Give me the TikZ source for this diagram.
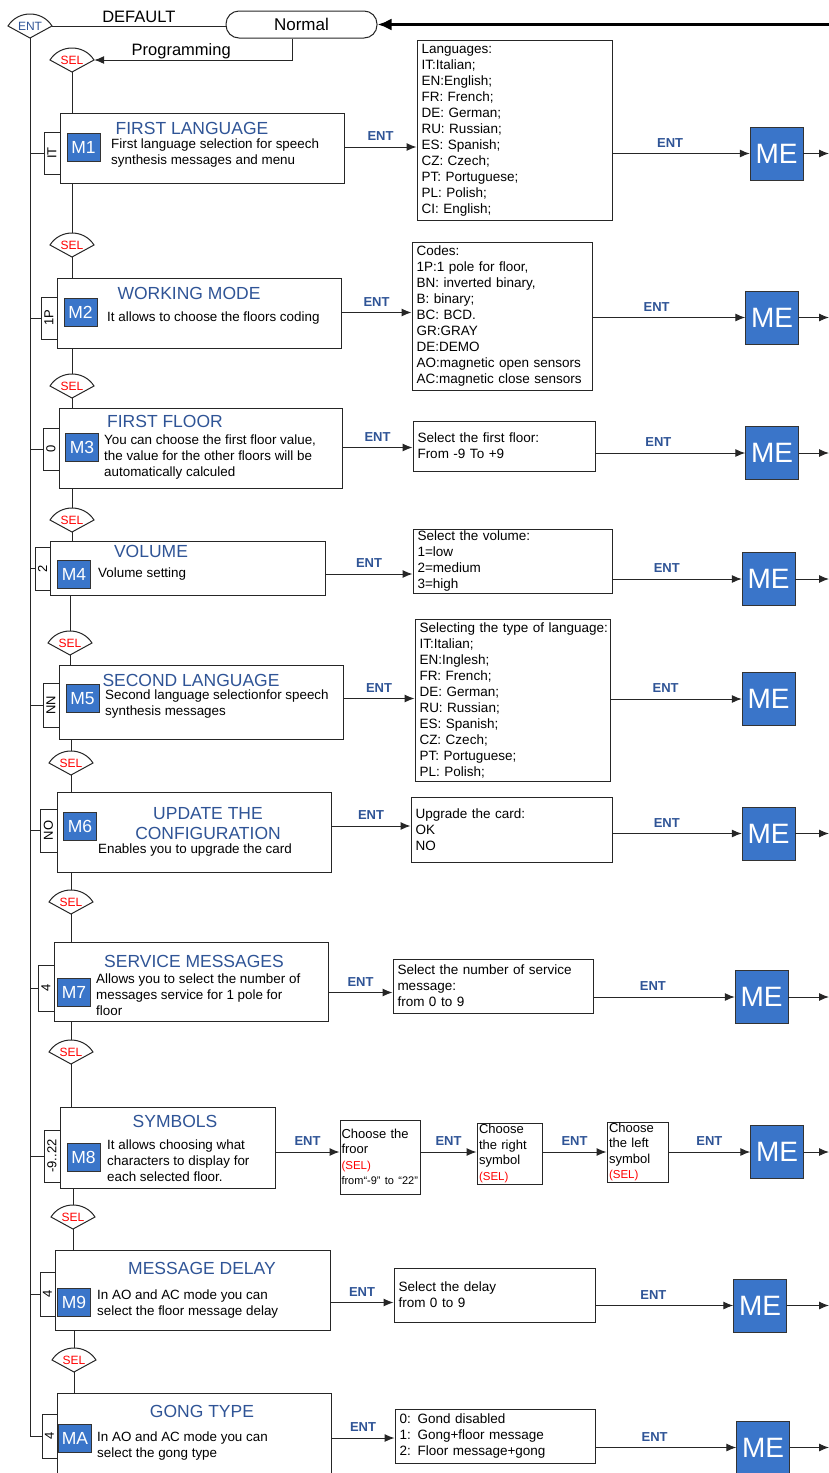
\documentclass[tikz,border=0pt]{standalone}
\usepackage{fontspec}
\setmainfont{Liberation Sans}
\usepackage{graphicx}
\usetikzlibrary{arrows.meta,positioning,calc}
\definecolor{entblue}{RGB}{47,84,150}
\definecolor{codeblue}{RGB}{58,117,201}
\tikzset{menu/.style={draw=black!85,line width=1pt,fill=white,inner sep=0pt},
tabbox/.style={draw=black!85,line width=1pt,fill=white,inner sep=0pt,font=\fontsize{13}{13}\selectfont},
mcode/.style={draw=black!80,fill=codeblue,text=white,minimum width=33pt,minimum height=28pt,inner sep=0pt,font=\fontsize{17.5}{17.5}\selectfont},
ttl/.style={text=entblue,inner sep=1pt,align=center,font=\fontsize{17.5}{20}\selectfont},
dsc/.style={anchor=west,align=left,inner sep=2pt,font=\fontsize{13.4}{16}\selectfont},
opt/.style={draw=black!85,line width=1pt,align=left,inner xsep=4.5pt,inner ysep=0pt,font=\fontsize{13.5}{16}\selectfont},
sopt/.style={draw=black!85,line width=1pt,align=left,inner xsep=2pt,inner ysep=0pt,font=\fontsize{13}{15.5}\selectfont},
mebox/.style={draw=black!80,fill=codeblue,text=white,minimum size=53pt,inner sep=0pt,font=\fontsize{28}{28}\selectfont},
flow/.style={-{Latex[length=10pt,width=8pt]},line width=1pt,draw=black!85},
wire/.style={line width=1pt,draw=black!85},
entlab/.style={above=5pt,inner sep=1pt,text=entblue,font=\fontsize{13}{13}\selectfont\bfseries},
lab/.style={inner sep=1pt,font=\fontsize{16.5}{16.5}\selectfont},
fanline/.style={draw=black!85,line width=1pt,fill=white},
fantext/.style={minimum width=44pt,minimum height=24pt,inner sep=0pt,font=\fontsize{12}{12}\selectfont}}
\newcommand{\selfan}[5][red]{%
\draw[fanline] (#3-22,#4) .. controls (#3-12,#4-16) and (#3+12,#4-16) .. (#3+22,#4) -- (#3,#4+12) -- cycle;
\node[fantext,text=#1] (#2) at (#3,#4) {#5};}
\newcommand{\redsel}{{\color{red}\fontsize{11.5}{15.5}\selectfont (SEL)}}

\begin{document}
\begin{tikzpicture}[x=1pt,y=-1pt]
\useasboundingbox (0,0) rectangle (829,1473);
\coordinate (rim) at (829,0);
\selfan[entblue]{ent}{30}{26}{ENT}
\node[draw=black!85,line width=1pt,rounded corners=13pt,minimum width=151pt,minimum height=27pt,inner sep=0pt,font=\fontsize{17}{17}\selectfont] (normal) at (301.5,24.5) {Normal};
\draw[wire] (ent.east) -- node[lab,above=2pt]{DEFAULT} (ent.east -| normal.west);
\draw[-{Latex[length=14pt,width=12pt]},line width=3.5pt] (normal.east -| rim) -- (normal.east);
\selfan{sel1}{72}{60}{SEL}
\draw[flow] ([xshift=-9.5pt]normal.south) |- node[lab,above,pos=.78]{Programming} (sel1.east);

\node[tabbox,minimum width=16pt,minimum height=42pt] (t1) at (52,153) {\rotatebox{90}{IT}};
\node[menu,minimum width=284pt,minimum height=70pt] (b1) at (202,148) {};
\node[mcode] (c1) at (83.5,147) {M1};
\node[ttl] (n1) at (192,128) {FIRST LANGUAGE};
\node[dsc] (d1) at (109,153) {First language selection for speech\\synthesis messages and menu};
\node[opt,text width=186pt,minimum height=180pt] (o1) at (514.5,130) {Languages:\\IT:Italian;\\EN:English;\\FR: French;\\DE: German;\\RU: Russian;\\ES: Spanish;\\CZ: Czech;\\PT: Portuguese;\\PL: Polish;\\CI: English;};
\node[mebox] (me1) at (776.5,153.5) {ME};
\draw[wire] (sel1.south) -- (sel1.south |- b1.north);
\draw[flow] (b1.east |- c1) -- node[entlab]{ENT} (o1.west |- c1);
\draw[flow] (o1.east |- me1) -- node[entlab,pos=.42]{ENT} (me1);
\draw[flow] (me1) -- (me1 -| rim);

\selfan{sel2}{72}{245}{SEL}
\node[tabbox,minimum width=16pt,minimum height=42pt] (t2) at (49,318) {\rotatebox{90}{1P}};
\node[menu,minimum width=284pt,minimum height=70pt] (b2) at (199,313) {};
\node[mcode] (c2) at (80.5,312.5) {M2};
\node[ttl] (n2) at (189,293) {WORKING MODE};
\node[dsc] (d2) at (105,318) {It allows to choose the floors coding};
\node[opt,text width=171pt,minimum height=148pt] (o2) at (502,316) {Codes:\\1P:1 pole for floor,\\BN: inverted binary,\\B: binary;\\BC: BCD.\\GR:GRAY\\DE:DEMO\\AO:magnetic open sensors\\AC:magnetic close sensors};
\node[mebox] (me2) at (772,317.5) {ME};
\draw[wire] (b1.south -| sel2.north) -- (sel2.north);
\draw[wire] (sel2.south) -- (sel2.south |- b2.north);
\draw[flow] (b2.east |- c2) -- node[entlab]{ENT} (o2.west |- c2);
\draw[flow] (o2.east |- me2) -- node[entlab,pos=.42]{ENT} (me2);
\draw[flow] (me2) -- (me2 -| rim);

\selfan{sel3}{72}{386}{SEL}
\node[tabbox,minimum width=16pt,minimum height=42pt] (t3) at (51,449) {\rotatebox{90}{0}};
\node[menu,minimum width=283pt,minimum height=80pt] (b3) at (200.5,448) {};
\node[mcode] (c3) at (82,447.5) {M3};
\node[ttl] (n3) at (165,421) {FIRST FLOOR};
\node[dsc] (d3) at (102,457) {You can choose the first floor value,\\the value for the other floors will be\\automatically calculed};
\node[opt,text width=173pt,minimum height=50pt] (o3) at (504,446) {Select the first floor:\\From -9 To +9};
\node[mebox] (me3) at (772,453) {ME};
\draw[wire] (b2.south -| sel3.north) -- (sel3.north);
\draw[wire] (sel3.south) -- (sel3.south |- b3.north);
\draw[flow] (b3.east |- c3) -- node[entlab]{ENT} (o3.west |- c3);
\draw[flow] (o3.east |- me3) -- node[entlab,pos=.42]{ENT} (me3);
\draw[flow] (me3) -- (me3 -| rim);

\selfan{sel4}{72}{520}{SEL}
\node[tabbox,minimum width=15pt,minimum height=43pt] (t4) at (42.5,568.5) {\rotatebox{90}{2}};
\node[menu,minimum width=275pt,minimum height=54pt] (b4) at (187.5,568) {};
\node[mcode] (c4) at (74,574) {M4};
\node[ttl] (n4) at (151,551) {VOLUME};
\node[dsc] (d4) at (96,574) {Volume setting};
\node[opt,text width=190pt,minimum height=64pt] (o4) at (512.5,561) {Select the volume:\\1=low\\2=medium\\3=high};
\node[mebox] (me4) at (768.5,579) {ME};
\draw[wire] (b3.south -| sel4.north) -- (sel4.north);
\draw[wire] (sel4.south) -- (sel4.south |- b4.north);
\draw[flow] (b4.east |- c4) -- node[entlab]{ENT} (o4.west |- c4);
\draw[flow] (o4.east |- me4) -- node[entlab,pos=.42]{ENT} (me4);
\draw[flow] (me4) -- (me4 -| rim);

\selfan{sel5}{70}{643}{SEL}
\node[tabbox,minimum width=16pt,minimum height=44pt] (t5) at (51,705) {\rotatebox{90}{NN}};
\node[menu,minimum width=284pt,minimum height=74pt] (b5) at (201,702) {};
\node[mcode] (c5) at (82.5,698.5) {M5};
\node[ttl] (n5) at (191,680) {SECOND LANGUAGE};
\node[dsc] (d5) at (103,704.5) {Second language selectionfor speech\\synthesis messages};
\node[opt,text width=186pt,minimum height=162pt] (o5) at (512.5,700) {\mbox{Selecting the type of language:}\\IT:Italian;\\EN:Inglesh;\\FR: French;\\DE: German;\\RU: Russian;\\ES: Spanish;\\CZ: Czech;\\PT: Portuguese;\\PL: Polish;};
\node[mebox] (me5) at (768.5,699) {ME};
\draw[wire] (b4.south -| sel5.north) -- (sel5.north);
\draw[wire] (sel5.south) -- (sel5.south |- b5.north);
\draw[flow] (b5.east |- c5) -- node[entlab]{ENT} (o5.west |- c5);
\draw[flow] (o5.east |- me5) -- node[entlab,pos=.42]{ENT} (me5);

\selfan{sel6}{71}{763}{SEL}
\node[tabbox,minimum width=17pt,minimum height=43pt] (t6) at (48.5,830.5) {\rotatebox{90}{NO}};
\node[menu,minimum width=274pt,minimum height=80pt] (b6) at (194,832) {};
\node[mcode] (c6) at (80,826) {M6};
\node[ttl] (n6) at (208,824) {UPDATE THE\\CONFIGURATION};
\node[dsc,anchor=center] (d6) at (195,850) {Enables you to upgrade the card};
\node[opt,text width=192pt,minimum height=65pt] (o6) at (511.5,829.5) {Upgrade the card:\\OK\\NO};
\node[mebox] (me6) at (768.5,833.5) {ME};
\draw[wire] (b5.south -| sel6.north) -- (sel6.north);
\draw[wire] (sel6.south) -- (sel6.south |- b6.north);
\draw[flow] (b6.east |- c6) -- node[entlab]{ENT} (o6.west |- c6);
\draw[flow] (o6.east |- me6) -- node[entlab,pos=.42]{ENT} (me6);
\draw[flow] (me6) -- (me6 -| rim);

\selfan{sel7}{71}{902}{SEL}
\node[tabbox,minimum width=16pt,minimum height=46pt] (t7) at (46,988) {\rotatebox{90}{4}};
\node[menu,minimum width=274pt,minimum height=79pt] (b7) at (191,981.5) {};
\node[mcode] (c7) at (74,992.5) {M7};
\node[ttl] (n7) at (194,961) {SERVICE MESSAGES};
\node[dsc] (d7) at (94,995) {Allows you to select the number of\\messages service for 1 pole for\\floor};
\node[opt,text width=191pt,minimum height=54pt] (o7) at (493,986) {Select the number of service\\message:\\from 0 to 9};
\node[mebox] (me7) at (761.5,997) {ME};
\draw[wire] (b6.south -| sel7.north) -- (sel7.north);
\draw[wire] (sel7.south) -- (sel7.south |- b7.north);
\draw[flow] (b7.east |- c7) -- node[entlab]{ENT} (o7.west |- c7);
\draw[flow] (o7.east |- me7) -- node[entlab,pos=.42]{ENT} (me7);
\draw[flow] (me7) -- (me7 -| rim);

\selfan{sel8}{71}{1052}{SEL}
\node[tabbox,minimum width=16pt,minimum height=52pt] (t8) at (52,1156) {\rotatebox{90}{-9..22}};
\node[menu,minimum width=215pt,minimum height=81pt] (b8) at (167.5,1147.5) {};
\node[mcode] (c8) at (83.5,1157) {M8};
\node[ttl] (n8) at (175,1121) {SYMBOLS};
\node[dsc] (d8) at (105,1161) {It allows choosing what\\characters to display for\\each selected floor.};
\node[sopt,inner xsep=1.5pt,text width=77pt,minimum height=74pt] (s1) at (380,1157) {Choose the\\froor\\\redsel\\\mbox{\fontsize{11}{15.5}\selectfont from“-9” to “22”}};
\node[sopt,text width=61pt,minimum height=61pt] (s2) at (509.5,1153.5) {Choose\\the right\\symbol\\\redsel};
\node[sopt,text width=57pt,minimum height=60pt] (s3) at (637.5,1152) {Choose\\the left\\symbol\\\redsel};
\node[mebox] (me8) at (777,1152) {ME};
\draw[wire] (b7.south -| sel8.north) -- (sel8.north);
\draw[wire] (sel8.south) -- (sel8.south |- b8.north);
\draw[flow] (b8.east |- me8) -- node[entlab]{ENT} (s1.west |- me8);
\draw[flow] (s1.east |- me8) -- node[entlab]{ENT} (s2.west |- me8);
\draw[flow] (s2.east |- me8) -- node[entlab]{ENT} (s3.west |- me8);
\draw[flow] (s3.east |- me8) -- node[entlab]{ENT} (me8);
\draw[flow] (me8) -- (me8 -| rim);

\selfan{sel9}{73}{1217}{SEL}
\node[tabbox,minimum width=15pt,minimum height=44pt] (t9) at (47.5,1294) {\rotatebox{90}{4}};
\node[menu,minimum width=275pt,minimum height=80pt] (b9) at (192.5,1290) {};
\node[mcode] (c9) at (74,1302.5) {M9};
\node[ttl] (n9) at (202,1268) {MESSAGE DELAY};
\node[dsc] (d9) at (95,1304) {In AO and AC mode you can\\select the floor message delay};
\node[opt,text width=192pt,minimum height=54pt] (o9) at (494.5,1295) {Select the delay\\from 0 to 9};
\node[mebox] (me9) at (760,1305.5) {ME};
\draw[wire] (b8.south -| sel9.north) -- (sel9.north);
\draw[wire] (sel9.south) -- (sel9.south |- b9.north);
\draw[flow] (b9.east |- c9) -- node[entlab]{ENT} (o9.west |- c9);
\draw[flow] (o9.east |- me9) -- node[entlab,pos=.42]{ENT} (me9);
\draw[flow] (me9) -- (me9 -| rim);

\selfan{selA}{74}{1360}{SEL}
\node[tabbox,minimum width=15pt,minimum height=44pt] (tA) at (49.5,1436) {\rotatebox{90}{4}};
\node[menu,minimum width=274pt,minimum height=82pt] (bA) at (194,1434) {};
\node[mcode] (cA) at (75,1438) {MA};
\node[ttl] (nA) at (202,1411) {GONG TYPE};
\node[dsc] (dA) at (95,1446.5) {In AO and AC mode you can\\select the gong type};
\node[opt,text width=191pt,minimum height=54pt] (oA) at (495,1436) {0: Gond disabled\\1: Gong+floor message\\2: Floor message+gong};
\node[mebox] (meA) at (763,1447.5) {ME};
\draw[wire] (b9.south -| selA.north) -- (selA.north);
\draw[wire] (selA.south) -- (selA.south |- bA.north);
\draw[flow] (bA.east |- cA) -- node[entlab]{ENT} (oA.west |- cA);
\draw[flow] (oA.east |- meA) -- node[entlab,pos=.42]{ENT} (meA);
\draw[flow] (meA) -- (meA -| rim);

\draw[wire] (ent.south) |- (tA.west);
\foreach \t in {t1,t2,t3,t4,t5,t6,t7,t8,t9}
  \draw[wire] (\t.west -| ent.south) -- (\t.west);
\end{tikzpicture}
\end{document}
